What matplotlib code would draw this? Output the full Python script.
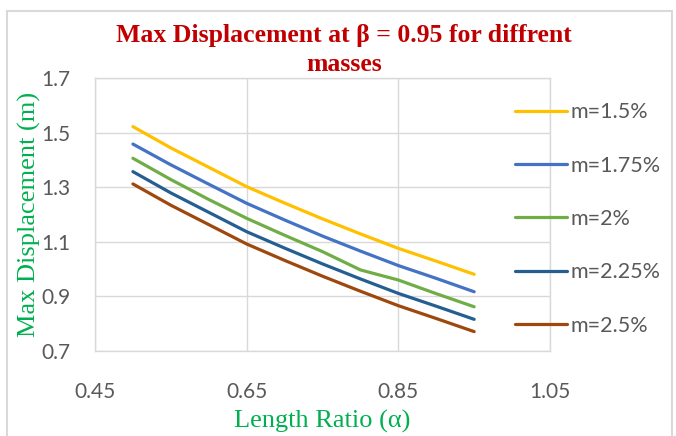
import matplotlib.pyplot as plt
from matplotlib.patches import Rectangle

# Length ratio samples and max displacement for each mass ratio
alpha = [0.50, 0.55, 0.60, 0.65, 0.70, 0.75, 0.80, 0.85, 0.90, 0.95]
m_150 = [1.522, 1.444, 1.373, 1.302, 1.242, 1.184, 1.129, 1.076, 1.029, 0.981]
m_175 = [1.458, 1.382, 1.311, 1.241, 1.180, 1.121, 1.066, 1.013, 0.966, 0.917]
m_200 = [1.406, 1.328, 1.255, 1.186, 1.124, 1.064, 0.997, 0.960, 0.910, 0.862]
m_225 = [1.357, 1.279, 1.208, 1.137, 1.077, 1.019, 0.964, 0.911, 0.864, 0.816]
m_250 = [1.312, 1.234, 1.163, 1.092, 1.032, 0.974, 0.919, 0.866, 0.819, 0.771]

labels = ['m=1.5%', 'm=1.75%', 'm=2%', 'm=2.25%', 'm=2.5%']
colors = ['#FFC000', '#4472C4', '#70AD47', '#255E91', '#9E480E']
series = [m_150, m_175, m_200, m_225, m_250]

W, H = 676, 436
fig = plt.figure(figsize=(W / 100, H / 100), dpi=100)
ax = fig.add_axes([95 / W, 1 - 351 / H, (550 - 95) / W, (351 - 78) / H])

for y, c, lab in zip(series, colors, labels):
    ax.plot(alpha, y, color=c, lw=2.3, label=lab, solid_capstyle='round')

ax.set_xlim(0.45, 1.05)
ax.set_ylim(0.7, 1.7)
ax.set_xticks([0.45, 0.65, 0.85, 1.05])
ax.set_yticks([0.7, 0.9, 1.1, 1.3, 1.5, 1.7])
ax.set_xticklabels(['0.45', '0.65', '0.85', '1.05'])
ax.set_yticklabels(['0.7', '0.9', '1.1', '1.3', '1.5', '1.7'])
ax.grid(True, color='#D9D9D9', lw=1)
ax.set_axisbelow(True)
for s in ax.spines.values():
    s.set_color('#D9D9D9')
    s.set_linewidth(1)
ax.tick_params(length=0, colors='#595959', labelsize=15)
for t in ax.get_xticklabels() + ax.get_yticklabels():
    t.set_family('Lato')
ax.tick_params(axis='x', pad=22)
ax.tick_params(axis='y', pad=18)

ax.set_xlabel('Length Ratio (α)', family='Liberation Serif', fontsize=19,
              color='#00B050', labelpad=6)
ax.set_ylabel('Max Displacement (m)', family='Liberation Serif', fontsize=19,
              color='#00B050', labelpad=0)

fig.text(344 / W, 1 - 50 / H, 'Max Displacement at β = 0.95 for diffrent\nmasses',
         ha='center', va='center', family='Liberation Serif', weight='bold',
         fontsize=18.5, color='#C00000', linespacing=1.3)

leg = fig.legend(loc='center left', bbox_to_anchor=(515 / W, 1 - 219 / H),
                 frameon=False, borderpad=0, borderaxespad=0,
                 handlelength=2.4, handletextpad=0.2, labelspacing=1.55,
                 prop={'family': 'Lato', 'size': 15.5})
for t in leg.get_texts():
    t.set_color('#595959')

# chart border
fig.patches.append(Rectangle((7 / W, -0.05), (672 - 7) / W, 1.05 - 11 / H,
                             transform=fig.transFigure, fill=False,
                             ec='#D9D9D9', lw=1.5))

fig.savefig('out.png', dpi=100)
